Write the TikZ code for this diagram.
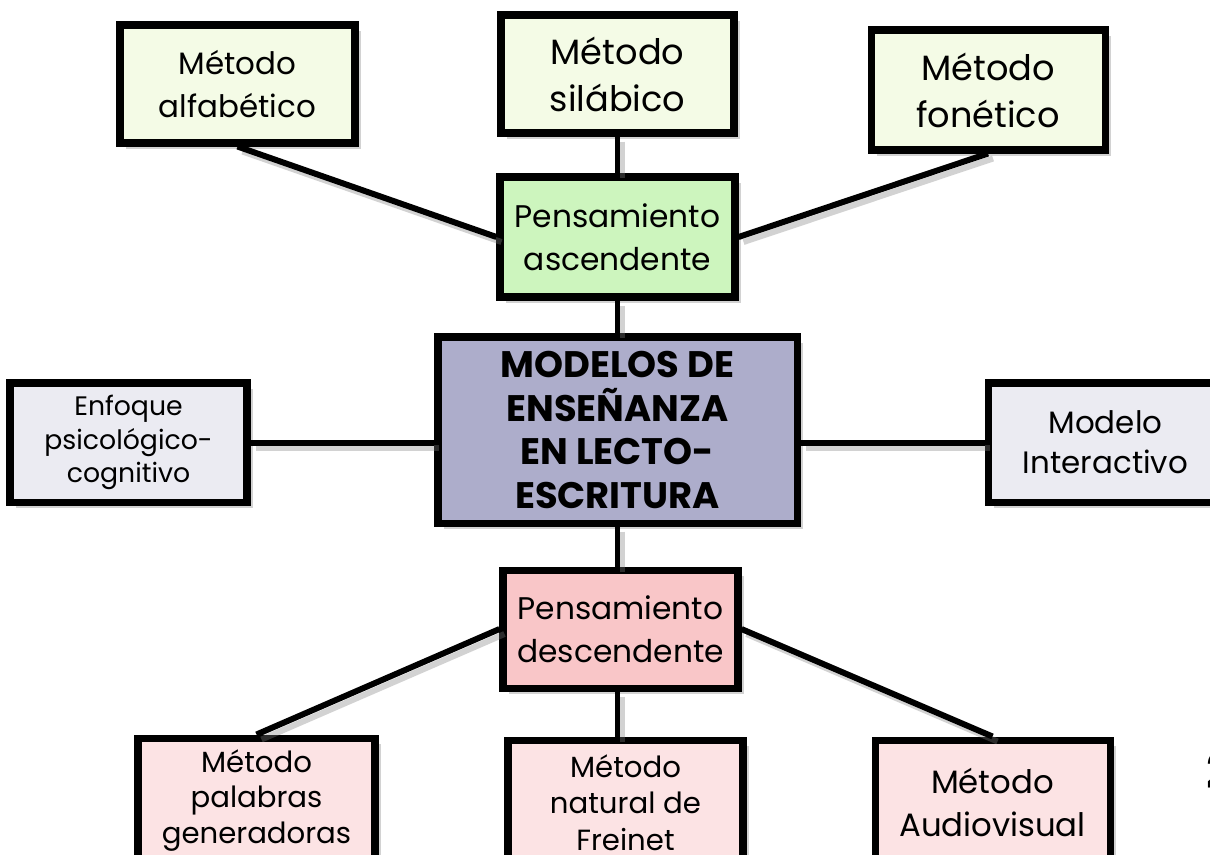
\documentclass[tikz,border=0pt]{standalone}
\usepackage{fontspec}
\setmainfont{Poppins}
\usetikzlibrary{shadows}

\definecolor{metverde}{HTML}{F4FBE6}
\definecolor{ascverde}{HTML}{CDF5BE}
\definecolor{centrolila}{HTML}{ADADCB}
\definecolor{ladogris}{HTML}{EBEBF2}
\definecolor{descrosa}{HTML}{F9C6C8}
\definecolor{metrosa}{HTML}{FCE3E4}

\tikzset{
  caja/.style={draw=black, line width=2pt, align=center, inner sep=1pt,
    drop shadow={shadow xshift=0.06cm, shadow yshift=-0.06cm, opacity=0.35}},
  enlace/.style={line width=1.7pt,
    preaction={draw=gray, opacity=0.35, line width=1.7pt,
      transform canvas={shift={(0.05,-0.05)}}}}
}

\begin{document}
\begin{tikzpicture}

%%%%%%%%%%%%%%%%%%%%%%%%%%%%%%%%%%%%%%%%%%
  \useasboundingbox (0,0) rectangle (12.1,-8.54);
  \clip (0,0) rectangle (12.1,-8.54);
  \fill[white] (0,0) rectangle (12.1,-8.54);

  % Centre
  \node[caja, fill=centrolila, minimum width=3.59cm, minimum height=1.86cm,
    font=\fontsize{10.5}{12.5}\selectfont\bfseries]
    (modelos) at (6.175,-4.30) {MODELOS DE\\ENSEÑANZA\\EN LECTO-\\ESCRITURA};

  % Upward thinking
  \node[caja, fill=ascverde, minimum width=2.35cm, minimum height=1.20cm,
    font=\fontsize{8.9}{12.2}\selectfont]
    (ascendente) at (6.175,-2.37) {Pensamiento\\ascendente};
  \node[caja, fill=metverde, minimum width=2.35cm, minimum height=1.18cm,
    font=\fontsize{8.8}{12}\selectfont]
    (alfabetico) at (2.375,-0.84) {Método\\alfabético};
  \node[caja, fill=metverde, minimum width=2.33cm, minimum height=1.18cm,
    font=\fontsize{10}{13.4}\selectfont]
    (silabico) at (6.175,-0.74) {Método\\silábico};
  \node[caja, fill=metverde, minimum width=2.34cm, minimum height=1.20cm,
    font=\fontsize{10}{13.4}\selectfont]
    (fonetico) at (9.88,-0.90) {Método\\fonético};

  % Sides
  \node[caja, fill=ladogris, minimum width=2.37cm, minimum height=1.19cm,
    font=\fontsize{7.6}{9.5}\selectfont]
    (enfoque) at (1.285,-4.425) {Enfoque\\psicológico-\\cognitivo};
  \node[caja, fill=ladogris, minimum width=2.35cm, minimum height=1.19cm,
    font=\fontsize{8.8}{11.4}\selectfont]
    (interactivo) at (11.055,-4.425) {Modelo\\Interactivo};

  % Downward thinking
  \node[caja, fill=descrosa, minimum width=2.35cm, minimum height=1.18cm,
    font=\fontsize{8.9}{12.2}\selectfont]
    (descendente) at (6.205,-6.29) {Pensamiento\\descendente};
  \node[caja, fill=metrosa, minimum width=2.37cm, minimum height=1.25cm,
    font=\fontsize{8.3}{10}\selectfont]
    (palabras) at (2.565,-8.005) {Método\\palabras\\generadoras};
  \node[caja, fill=metrosa, minimum width=2.35cm, minimum height=1.25cm,
    font=\fontsize{8.3}{10.4}\selectfont]
    (freinet) at (6.255,-8.025) {Método\\natural de\\Freinet};
  \node[caja, fill=metrosa, minimum width=2.35cm, minimum height=1.25cm,
    font=\fontsize{9.2}{12}\selectfont]
    (audiovisual) at (9.925,-8.025) {Método\\Audiovisual};

  % Links
  \draw[enlace] (alfabetico.south) -- (ascendente.west);
  \draw[enlace] (silabico.south) -- (ascendente.north);
  \draw[enlace] (fonetico.south) -- (ascendente.east);
  \draw[enlace] (ascendente.south) -- (modelos.north);
  \draw[enlace] (enfoque.east) -- (modelos.west |- enfoque.east);
  \draw[enlace] (modelos.east |- interactivo.west) -- (interactivo.west);
  \draw[enlace] (modelos.south) -- (modelos.south |- descendente.north);
  \draw[enlace] (descendente.west) -- (palabras.north);
  \draw[enlace] (modelos.south |- descendente.south) -- (modelos.south |- freinet.north);
  \draw[enlace] (descendente.east) -- (audiovisual.north);

  % Page number
  \node[font=\fontsize{14}{14}\selectfont\bfseries, anchor=west]
    (pagina) at (11.94,-7.70) {2};

\end{tikzpicture}
\end{document}
